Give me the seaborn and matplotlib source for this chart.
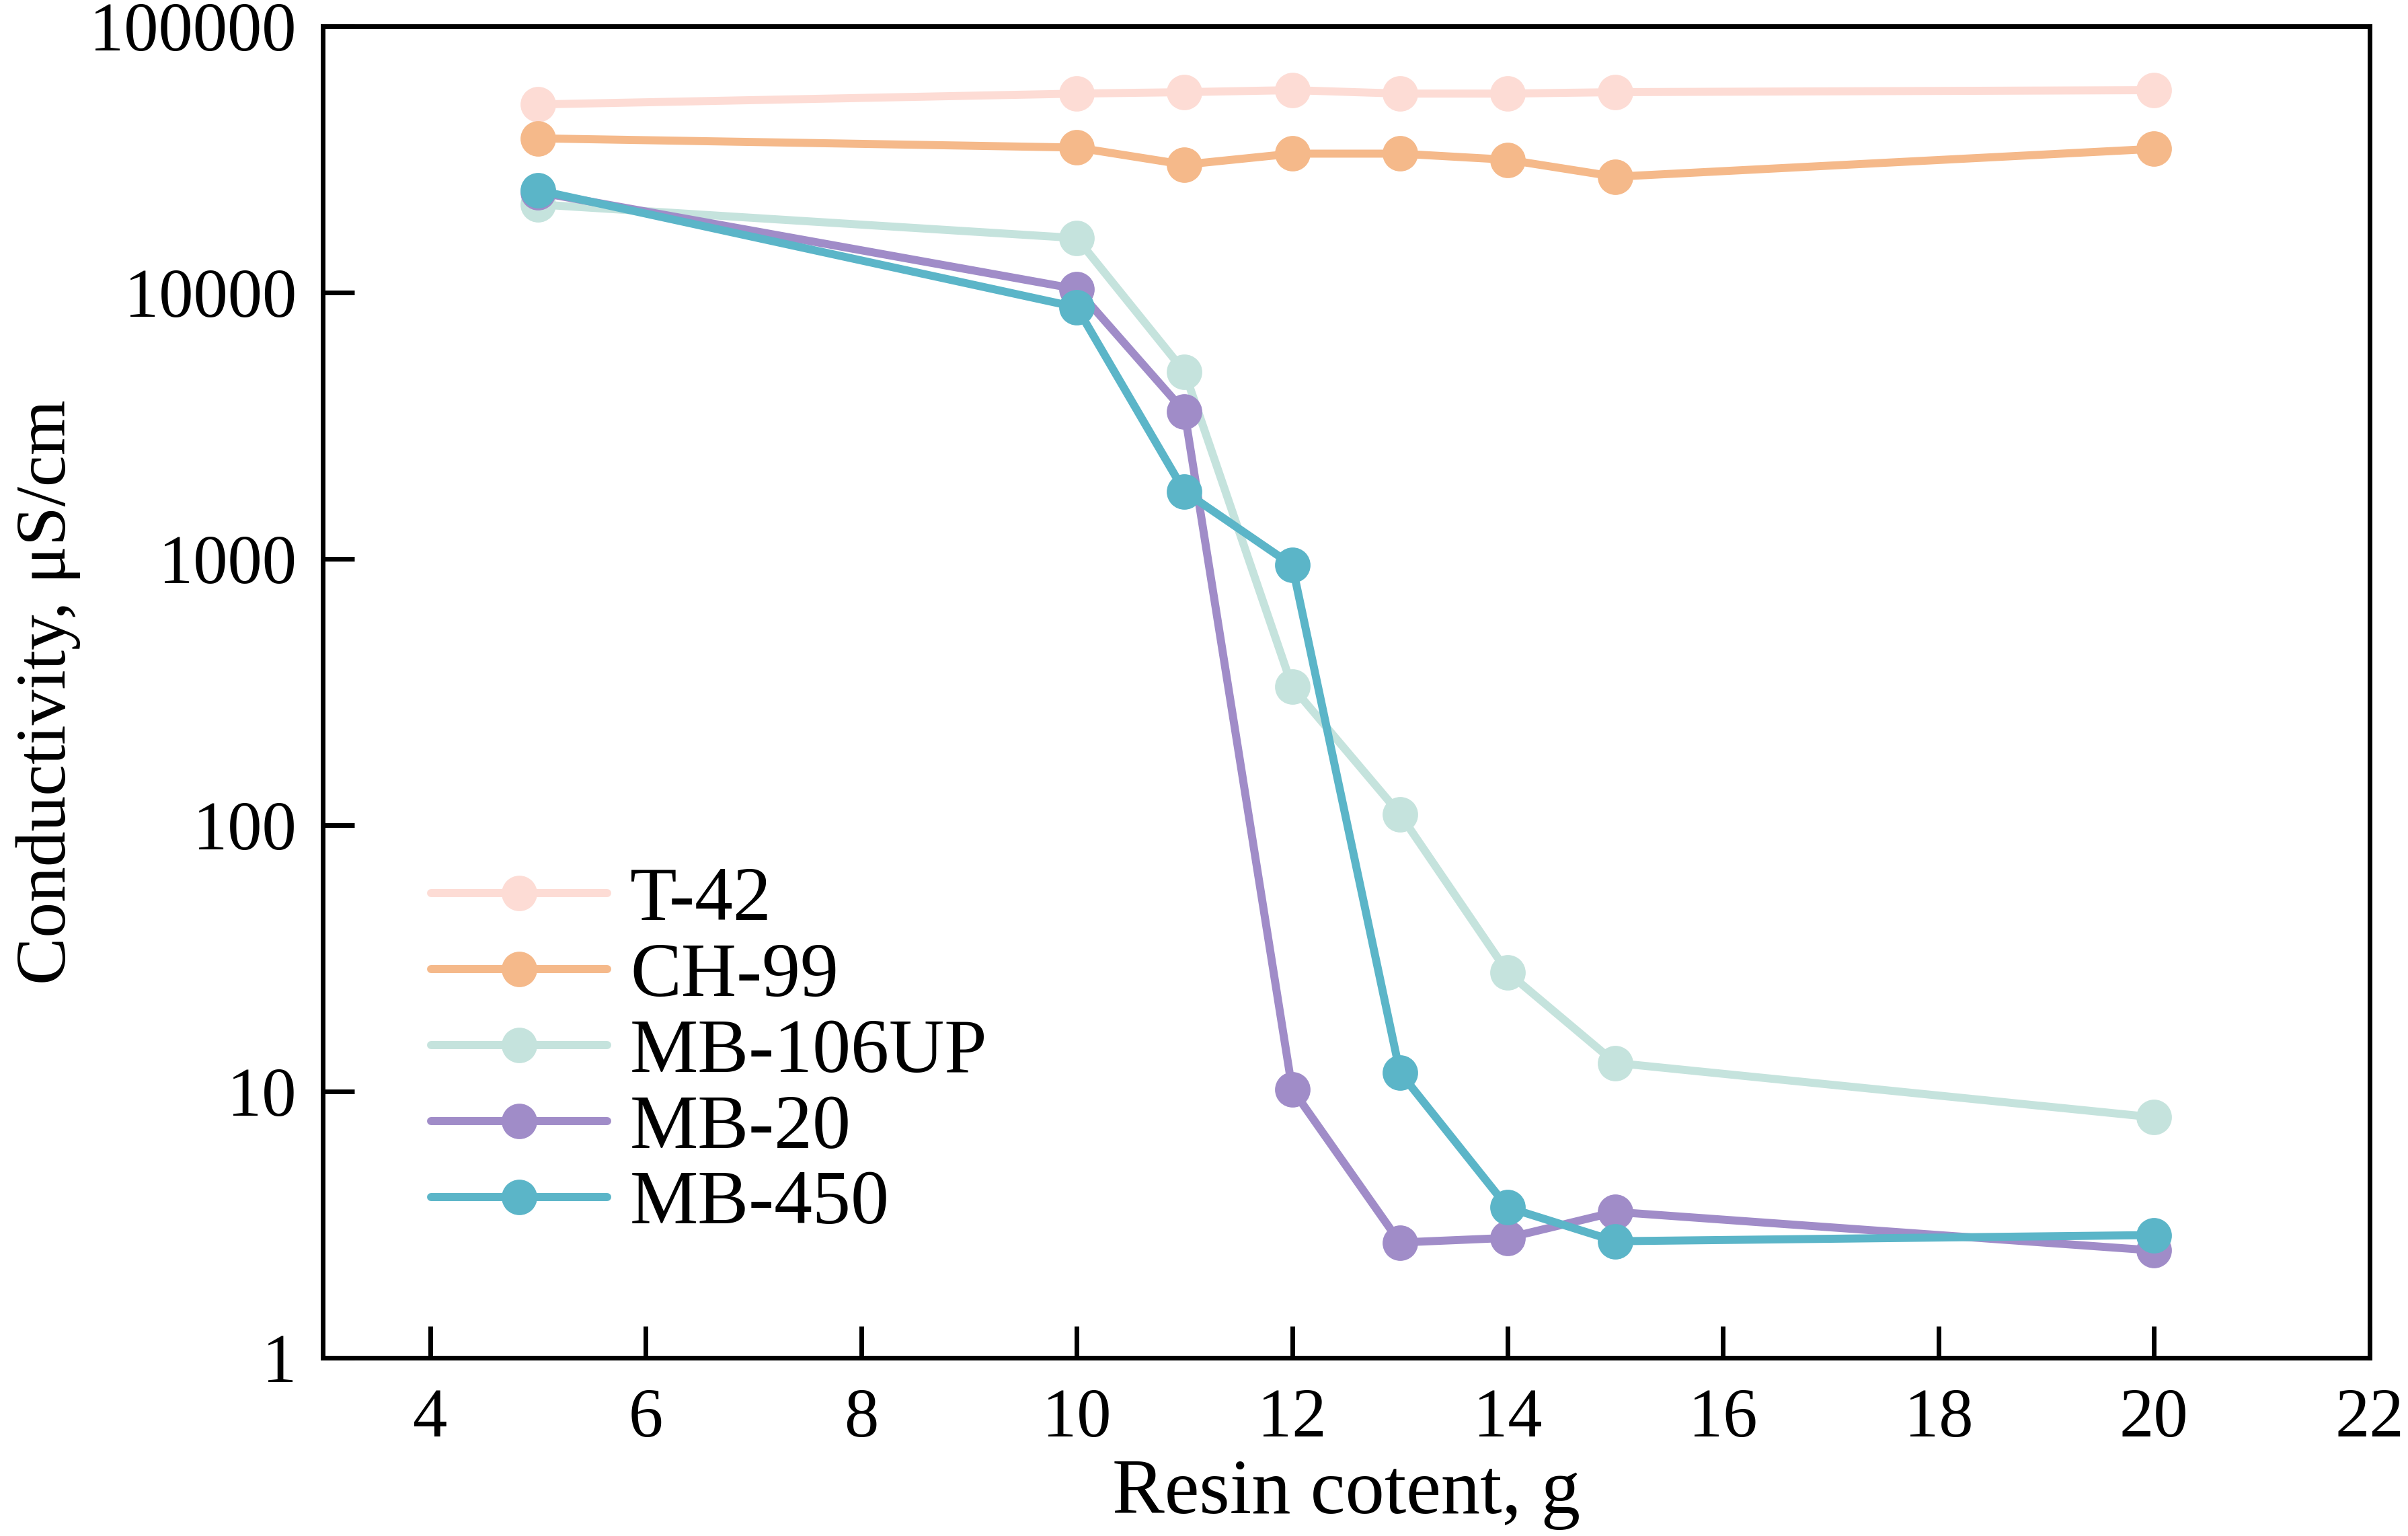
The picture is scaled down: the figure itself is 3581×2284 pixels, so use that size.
import matplotlib
matplotlib.use('Agg')
import matplotlib.pyplot as plt
import seaborn as sns
import pandas as pd

# resin content (g) shared by all series
resin = [5, 10, 11, 12, 13, 14, 15, 20]

# conductivity, uS/cm
t42 = [50800, 55800, 56500, 57500, 55800, 55800, 56500, 57500]
ch99 = [37900, 35000, 30200, 33200, 33200, 31500, 27200, 34600]
mb106up = [21400, 16000, 5040, 331, 110, 28, 12.8, 8.0]
mb20 = [23800, 10300, 3570, 10.2, 2.71, 2.82, 3.53, 2.53]
mb450 = [24200, 8800, 1790, 946, 11.8, 3.67, 2.74, 2.89]

names = ['T-42', 'CH-99', 'MB-106UP', 'MB-20', 'MB-450']
colors = ['#FDDCD5', '#F5B98A', '#C5E3DD', '#A08CC8', '#5BB5C8']

yticks = [1, 10, 100, 1000, 10000, 100000]
ytick_labels = ['1', '10', '100', '1000', '10000', '100000']
xticks = [4, 6, 8, 10, 12, 14, 16, 18, 20, 22]

frames = []
for name, vals in zip(names, [t42, ch99, mb106up, mb20, mb450]):
    frames.append(pd.DataFrame({'resin': resin, 'cond': vals, 'resin_type': name}))
df = pd.concat(frames, ignore_index=True)

sns.set_style('ticks')
plt.rcParams['font.family'] = ['Liberation Serif', 'DejaVu Serif']
plt.rcParams['text.color'] = 'black'
plt.rcParams['axes.labelcolor'] = 'black'
plt.rcParams['xtick.color'] = 'black'
plt.rcParams['ytick.color'] = 'black'

fig = plt.figure(figsize=(17.905, 11.42), dpi=200)
ax = fig.add_axes([0.134, 0.116, 0.850, 0.867])

sns.lineplot(data=df, x='resin', y='cond', hue='resin_type', hue_order=names,
             palette=dict(zip(names, colors)), marker='o', markersize=19,
             markeredgewidth=0, linewidth=4.3, ax=ax, sort=False)

ax.set_yscale('log')
ax.set_xlim(3, 22)
ax.set_ylim(1, 100000)
ax.set_yticks(yticks)
ax.set_yticklabels(ytick_labels)
ax.minorticks_off()
ax.set_xticks(xticks)
ax.set_xticklabels([str(t) for t in xticks])

ax.tick_params(axis='both', direction='in', length=17, width=2.5, labelsize=37,
               pad=14, colors='black')
ax.tick_params(axis='x', pad=16)
for s in ax.spines.values():
    s.set_linewidth(2.5)
    s.set_color('black')

ax.set_xlabel('Resin cotent, g', fontsize=42, labelpad=4)
ax.set_ylabel('Conductivity, μS/cm', fontsize=38, labelpad=5)

ax.legend(loc='upper left', bbox_to_anchor=(0.038, 0.392), frameon=False,
          fontsize=41, handlelength=2.3, handletextpad=0.3, labelspacing=0.08,
          borderaxespad=0)

fig.savefig('out.png', dpi=200)
